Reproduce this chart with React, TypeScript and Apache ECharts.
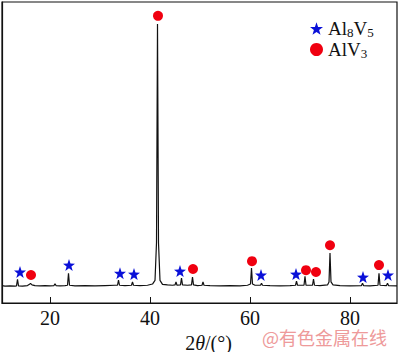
import React, { useEffect, useRef } from "react";
import * as echarts from "echarts";

const xTicks = [20, 40, 60, 80];

// XRD pattern: [2θ, intensity]
const pattern: [number, number][] = [
  [10.4, 5.8], [11, 5.6], [12, 5.7], [13, 5.6], [13.3, 5.7], [13.5, 7.9], [13.7, 5.7],
  [14.5, 5.6], [15.5, 5.8], [15.9, 6.2], [16.1, 6.5], [16.4, 6.0], [17, 5.8], [18, 5.7],
  [19, 5.8], [20, 5.7], [20.8, 5.8], [21, 6.4], [21.2, 5.8], [22, 5.7], [23, 5.8],
  [23.5, 5.9], [23.7, 9.9], [23.9, 5.9], [25, 5.7], [27, 5.8], [29, 5.7], [31, 5.8],
  [33, 5.9], [33.5, 5.9], [33.7, 7.6], [33.9, 5.9], [35, 5.8], [36.3, 5.9], [36.5, 7.0],
  [36.7, 5.9], [38, 5.8], [39.5, 5.9], [40.5, 6.3], [41.0, 7.5], [41.3, 20], [41.5, 92.7],
  [41.7, 20], [42.0, 7.5], [42.5, 6.2], [43.5, 6.0], [44.5, 5.9], [45.0, 6.0], [45.2, 7.0],
  [45.4, 5.9], [46.1, 6.0], [46.3, 8.3], [46.5, 6.0], [47.5, 5.9], [48.3, 6.0], [48.5, 8.6],
  [48.7, 6.0], [49.5, 5.8], [50.4, 5.9], [50.6, 7.0], [50.8, 5.9], [52, 5.8], [54, 5.7],
  [56, 5.8], [58, 5.7], [59.5, 5.9], [60.1, 6.3], [60.3, 11.6], [60.5, 6.3], [61, 5.9],
  [62.1, 5.9], [62.3, 6.6], [62.5, 5.9], [64, 5.8], [66, 5.7], [68, 5.8], [69.1, 5.9],
  [69.3, 7.3], [69.5, 5.9], [70.8, 5.9], [71.0, 8.9], [71.2, 5.9], [72.5, 5.9], [72.7, 7.9],
  [72.9, 5.9], [74, 5.8], [75.5, 6.0], [75.8, 7.0], [76.0, 16.6], [76.2, 7.0], [76.6, 6.0],
  [78, 5.8], [80, 5.7], [82.3, 5.8], [82.5, 6.6], [82.7, 5.8], [84, 5.7], [85.6, 5.9],
  [85.8, 9.9], [86.0, 5.9], [87.3, 5.8], [87.5, 6.6], [87.7, 5.8], [89.4, 5.7],
];

// Phase markers
const al8v5Marks: [number, number][] = [
  [14, 10.3], [23.8, 12.6], [34, 9.9], [36.8, 9.6], [46, 10.6],
  [62.2, 9.3], [69.2, 9.6], [82.6, 8.6], [87.6, 9.3],
];
const alv3Marks: [number, number][] = [
  [41.6, 95.4], [16.2, 9.3], [48.6, 11.3], [60.4, 13.9], [71.2, 10.9],
  [73.2, 10.3], [76, 19.2], [85.8, 12.6],
];

const STAR =
  "path://M0,-10L2.35,-3.24L9.51,-3.09L3.8,1.24L5.88,8.09L0,4L-5.88,8.09L-3.8,1.24L-9.51,-3.09L-2.35,-3.24Z";

const FONT = "'Liberation Serif', 'Times New Roman', serif";

const legendText = {
  fontFamily: FONT,
  rich: {
    m: { fontFamily: FONT, fontSize: 19, color: "#111", lineHeight: 19, verticalAlign: "top" },
    s: { fontFamily: FONT, fontSize: 13, color: "#111", lineHeight: 12, padding: [7, 0, 0, 0], verticalAlign: "top" },
  },
};
const fmt = (n: string) =>
  n === "Al8V5" ? "{m|Al}{s|8}{m|V}{s|5}" : "{m|AlV}{s|3}";

export default function App() {
  const ref = useRef<HTMLDivElement>(null);
  useEffect(() => {
    document.body.style.margin = "0";
    const chart = echarts.init(ref.current!, null, { renderer: "svg" });
    chart.setOption({
      animation: false,
      textStyle: { fontFamily: FONT },
      grid: {
        left: 2, right: 3, top: 2, bottom: 49,
        outerBoundsMode: "none",
        containLabel: false,
        show: true, borderColor: "#111", borderWidth: 1.2,
      },
      legend: [
        {
          left: 305, top: 14, itemWidth: 13, itemHeight: 13,
          data: [{ name: "Al8V5", icon: STAR }],
          formatter: fmt, textStyle: legendText,
        },
        {
          left: 305, top: 35, itemWidth: 13, itemHeight: 13,
          data: [{ name: "AlV3", icon: "circle" }],
          formatter: fmt, textStyle: legendText,
        },
      ],
      xAxis: {
        type: "value",
        min: 10.4,
        max: 89.4,
        splitLine: { show: false },
        axisLine: { show: true, lineStyle: { color: "#111", width: 1.2 } },
        axisTick: { inside: true, length: 6, customValues: xTicks, lineStyle: { color: "#111" } },
        axisLabel: {
          customValues: xTicks,
          fontFamily: FONT, fontSize: 20, color: "#111", margin: 5,
        },
        name: "2{i|θ}/(°)",
        nameLocation: "middle",
        nameGap: 17,
        nameTextStyle: {
          fontFamily: FONT, fontSize: 20, color: "#111", padding: [0, 0, 0, 18],
          rich: { i: { fontFamily: FONT, fontSize: 20, fontStyle: "italic", color: "#111" } },
        },
      },
      yAxis: {
        type: "value",
        min: 0,
        max: 100,
        axisLabel: { show: false },
        axisTick: { show: false },
        splitLine: { show: false },
        axisLine: { show: true, lineStyle: { color: "#111", width: 1.2 } },
      },
      series: [
        {
          type: "line",
          name: "pattern",
          data: pattern,
          showSymbol: false,
          symbol: "none",
          lineStyle: { color: "#111", width: 1.2 },
          silent: true,
          z: 1,
        },
        {
          type: "scatter",
          name: "Al8V5",
          data: al8v5Marks,
          symbol: STAR,
          symbolSize: 12,
          itemStyle: { color: "#0a10d8", opacity: 1 },
          z: 3,
        },
        {
          type: "scatter",
          name: "AlV3",
          data: alv3Marks,
          symbol: "circle",
          symbolSize: 10,
          itemStyle: { color: "#f00010", opacity: 1 },
          z: 3,
        },
      ],
      graphic: [
        {
          type: "text",
          left: 262,
          top: 328,
          style: {
            text: "@有色金属在线",
            font: '18px "Noto Sans CJK SC"',
            fill: "#ee9a9a",
          },
        },
      ],
    });
    return () => chart.dispose();
  }, []);
  return <div ref={ref} style={{ width: 400, height: 352 }} />;
}
